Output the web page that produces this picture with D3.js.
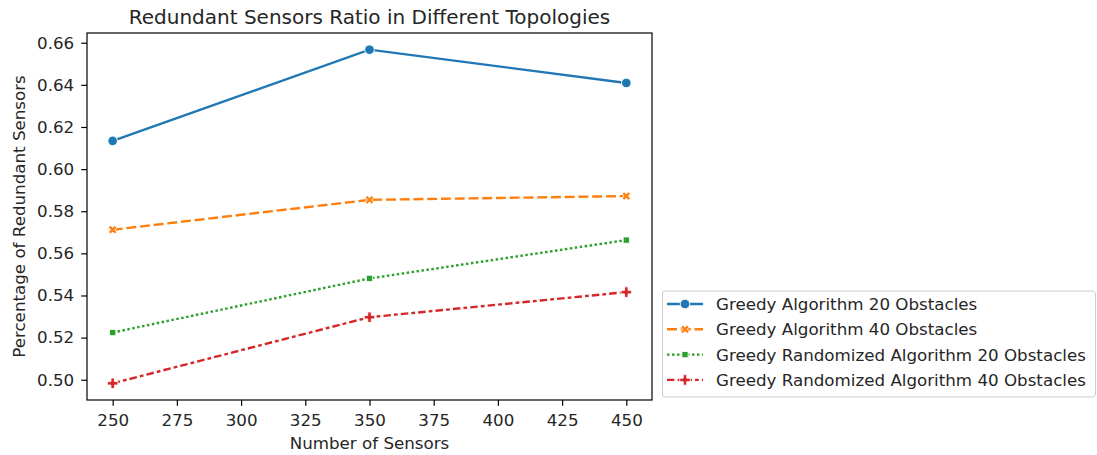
<!DOCTYPE html>
<html>
<head>
<meta charset="utf-8">
<script src="https://cdn.jsdelivr.net/npm/d3@7"></script>
<style>
  body { margin: 0; background: #fff; }
  svg text { font-family: "DejaVu Sans", sans-serif; fill: #262626; }
</style>
</head>
<body>
<svg id="chart" width="1097" height="455"></svg>
<script>
// data
var sensors = [250, 350, 450];
var seriesNames = [
  "Greedy Algorithm 20 Obstacles",
  "Greedy Algorithm 40 Obstacles",
  "Greedy Randomized Algorithm 20 Obstacles",
  "Greedy Randomized Algorithm 40 Obstacles"
];
var greedy20 = [0.6134, 0.6567, 0.6409];
var greedy40 = [0.5712, 0.5854, 0.5872];
var randomized20 = [0.5224, 0.5481, 0.5663];
var randomized40 = [0.4983, 0.5297, 0.5416];
var xTicks = [250, 275, 300, 325, 350, 375, 400, 425, 450];
var yTicks = [0.50, 0.52, 0.54, 0.56, 0.58, 0.60, 0.62, 0.64, 0.66];

var colors = ["#1f77b4", "#ff7f0e", "#2ca02c", "#d62728"];
var dashes = ["", "10,3.75", "2.5,2.5", "7.5,3.1,3.75,3.1"];
var allValues = [greedy20, greedy40, randomized20, randomized40];

var svg = d3.select("#chart");
var axL = 87, axT = 33, axR = 652, axB = 400;
var fs = "16.7px";

// seaborn-like 5% margins
var x = d3.scaleLinear().domain([240, 460]).range([axL, axR]);
var yMin = d3.min(allValues, function (s) { return d3.min(s); });
var yMax = d3.max(allValues, function (s) { return d3.max(s); });
var pad = (yMax - yMin) * 0.05;
var y = d3.scaleLinear().domain([yMin - pad, yMax + pad]).range([axB, axT]);

// symbols: circle, X, square, plus
var symbols = [
  d3.symbol().type(d3.symbolCircle).size(72),
  d3.symbol().type(d3.symbolCross).size(46),
  d3.symbol().type(d3.symbolSquare).size(40),
  d3.symbol().type(d3.symbolCross).size(62)
];
var rotations = [0, 45, 0, 0];

// axes
var xAxis = svg.append("g")
  .attr("transform", "translate(0," + axB + ")")
  .call(d3.axisBottom(x).tickValues(xTicks).tickSize(5.8).tickPadding(8).tickFormat(d3.format("d")));
var yAxis = svg.append("g")
  .attr("transform", "translate(" + axL + ",0)")
  .call(d3.axisLeft(y).tickValues(yTicks).tickSize(5.8).tickPadding(7).tickFormat(d3.format(".2f")));
[xAxis, yAxis].forEach(function (a) {
  a.select(".domain").remove();
  a.selectAll("line").attr("stroke", "#000").attr("stroke-width", 1.2);
  a.selectAll("text").style("font-size", fs).style("font-family", "DejaVu Sans").attr("fill", "#262626");
});

// lines + markers
var line = d3.line()
  .x(function (d, i) { return x(sensors[i]); })
  .y(function (d) { return y(d); });

allValues.forEach(function (vals, k) {
  svg.append("path")
    .datum(vals)
    .attr("d", line)
    .attr("fill", "none")
    .attr("stroke", colors[k])
    .attr("stroke-width", 2.4)
    .attr("stroke-dasharray", dashes[k]);
  svg.selectAll(".m" + k)
    .data(vals)
    .enter().append("path")
    .attr("class", "m" + k)
    .attr("d", symbols[k])
    .attr("transform", function (d, i) {
      return "translate(" + x(sensors[i]) + "," + y(d) + ") rotate(" + rotations[k] + ")";
    })
    .attr("fill", colors[k])
    .attr("stroke", "#fff")
    .attr("stroke-width", 0.9);
});

// frame
svg.append("rect")
  .attr("x", axL).attr("y", axT)
  .attr("width", axR - axL).attr("height", axB - axT)
  .attr("fill", "none").attr("stroke", "#000").attr("stroke-width", 1.2);

// titles
svg.append("text")
  .attr("x", (axL + axR) / 2).attr("y", 24)
  .attr("text-anchor", "middle")
  .style("font-size", "20px")
  .text("Redundant Sensors Ratio in Different Topologies");
svg.append("text")
  .attr("x", (axL + axR) / 2).attr("y", 449)
  .attr("text-anchor", "middle")
  .style("font-size", fs)
  .text("Number of Sensors");
svg.append("text")
  .attr("transform", "translate(24.5," + (axT + axB) / 2 + ") rotate(-90)")
  .attr("text-anchor", "middle")
  .style("font-size", fs)
  .text("Percentage of Redundant Sensors");

// legend
var lg = svg.append("g");
lg.append("rect")
  .attr("x", 662.5).attr("y", 291)
  .attr("width", 433).attr("height", 106)
  .attr("rx", 3)
  .attr("fill", "#fff").attr("fill-opacity", 0.8)
  .attr("stroke", "#ccc").attr("stroke-width", 1);

seriesNames.forEach(function (name, k) {
  var ly = 304 + k * 25.3;
  lg.append("line")
    .attr("x1", 667).attr("x2", 703)
    .attr("y1", ly).attr("y2", ly)
    .attr("stroke", colors[k]).attr("stroke-width", 2.4)
    .attr("stroke-dasharray", dashes[k]);
  lg.append("path")
    .attr("d", symbols[k])
    .attr("transform", "translate(685," + ly + ") rotate(" + rotations[k] + ")")
    .attr("fill", colors[k]).attr("stroke", "#fff").attr("stroke-width", 0.9);
  lg.append("text")
    .attr("x", 716).attr("y", ly + 6)
    .style("font-size", fs)
    .text(name);
});
</script>
</body>
</html>
